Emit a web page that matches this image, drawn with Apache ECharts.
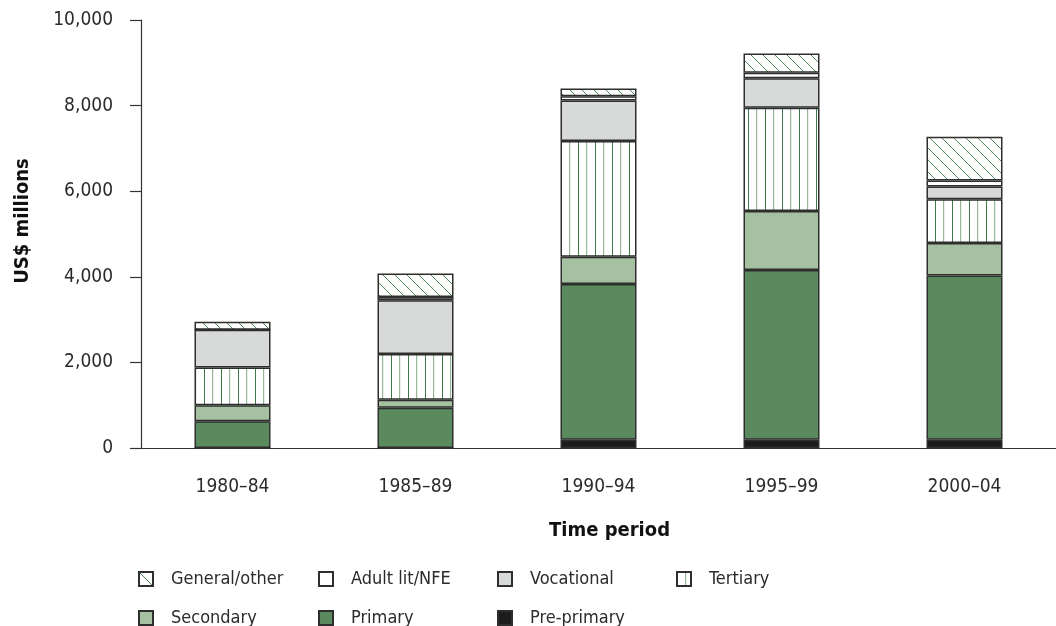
<!DOCTYPE html>
<html>
<head>
<meta charset="utf-8">
<title>Aid to education by level</title>
<script src="https://cdn.jsdelivr.net/npm/echarts@6/dist/echarts.min.js"></script>
<style>
  html, body { margin: 0; padding: 0; background: #fff; }
  #chart { width: 1056px; height: 626px; }
</style>
</head>
<body>
<div id="chart"></div>
<script>
// data (US$ millions)
const periods = ['1980–84', '1985–89', '1990–94', '1995–99', '2000–04']
const prePrimary = [0, 0, 190, 190, 190]
const primary = [625, 940, 3640, 3970, 3840]
const secondary = [375, 185, 640, 1380, 760]
const tertiary = [880, 1070, 2700, 2410, 1020]
const vocational = [885, 1260, 950, 690, 300]
const adultLit = [0, 75, 100, 130, 140]
const generalOther = [185, 550, 180, 450, 1025]
const yTicks = [0, 2000, 4000, 6000, 8000, 10000]

const font = '"Liberation Sans Narrow", "DejaVu Sans Condensed", "Liberation Sans", sans-serif'
const textColor = '#2b2b2b'
const edge = '#2e2e2e'

// vertical lines pattern (tertiary)
const makeVertical = () => {
  const c = document.createElement('canvas')
  c.width = 17
  c.height = 4
  const ctx = c.getContext('2d')
  ctx.fillStyle = '#fff'
  ctx.fillRect(0, 0, 17, 4)
  ctx.fillStyle = '#3f7a47'
  ctx.fillRect(0, 0, 1, 4)
  ctx.fillStyle = '#94b994'
  ctx.fillRect(8, 0, 1.2, 4)
  return c
}

// diagonal hatch pattern (general/other)
const makeHatch = () => {
  const s = 12
  const c = document.createElement('canvas')
  c.width = s
  c.height = s
  const ctx = c.getContext('2d')
  ctx.fillStyle = '#fff'
  ctx.fillRect(0, 0, s, s)
  ctx.strokeStyle = '#4e8a55'
  ctx.lineWidth = 1
  ctx.beginPath()
  ctx.moveTo(-1, -1)
  ctx.lineTo(s + 1, s + 1)
  ctx.moveTo(-1, s - 1)
  ctx.lineTo(1, s + 1)
  ctx.moveTo(s - 1, -1)
  ctx.lineTo(s + 1, 1)
  ctx.stroke()
  return c
}

const seriesDefs = [
  { name: 'Pre-primary', data: prePrimary, color: '#1c1c1c' },
  { name: 'Primary', data: primary, color: '#5a8a5e' },
  { name: 'Secondary', data: secondary, color: '#a6c1a1' },
  { name: 'Tertiary', data: tertiary, color: { image: makeVertical(), repeat: 'repeat' } },
  { name: 'Vocational', data: vocational, color: '#d8d9d9' },
  { name: 'Adult lit/NFE', data: adultLit, color: '#ffffff' },
  { name: 'General/other', data: generalOther, color: { image: makeHatch(), repeat: 'repeat' } }
]

// legend laid out as in the picture: two rows, fixed columns
const legendPos = [
  { name: 'General/other', left: 138, top: 570 },
  { name: 'Adult lit/NFE', left: 318, top: 570 },
  { name: 'Vocational', left: 497, top: 570 },
  { name: 'Tertiary', left: 676, top: 570 },
  { name: 'Secondary', left: 138, top: 609 },
  { name: 'Primary', left: 318, top: 609 },
  { name: 'Pre-primary', left: 497, top: 609 }
]

const chart = echarts.init(document.getElementById('chart'), null, { renderer: 'canvas' })

const option = {
  animation: false,
  textStyle: { fontFamily: font, color: textColor },
  grid: { left: 141, top: 20, right: -9, bottom: 178 },
  legend: legendPos.map((l) => ({
    data: [{ name: l.name, icon: 'rect' }],
    left: l.left,
    top: l.top,
    padding: 0,
    itemWidth: 14,
    itemHeight: 14,
    selectedMode: false,
    textStyle: { fontFamily: font, fontSize: 18, color: textColor, padding: [0, 0, 0, 13] }
  })),
  xAxis: {
    type: 'category',
    data: periods,
    name: 'Time period',
    nameLocation: 'middle',
    nameGap: 73,
    nameTextStyle: { fontFamily: font, fontSize: 20, fontWeight: 'bold', color: '#111', padding: [0, 0, 0, 22] },
    axisLine: { lineStyle: { color: '#333', width: 1.2 } },
    axisTick: { length: 10, lineStyle: { color: '#333', width: 1.2 } },
    axisLabel: { margin: 30, fontSize: 19, color: textColor, fontFamily: font }
  },
  yAxis: {
    type: 'value',
    min: yTicks[0],
    max: yTicks[yTicks.length - 1],
    interval: yTicks[1] - yTicks[0],
    name: 'US$ millions',
    nameLocation: 'middle',
    nameGap: 108,
    nameTextStyle: { fontFamily: font, fontSize: 20, fontWeight: 'bold', color: '#111', padding: [0, 0, 0, 26] },
    axisLine: { show: true, lineStyle: { color: '#333', width: 1.2 } },
    axisTick: { show: true, length: 11, lineStyle: { color: '#333', width: 1.2 } },
    splitLine: { show: false },
    axisLabel: {
      margin: 28,
      fontSize: 19,
      color: textColor,
      fontFamily: font,
      formatter: (v) => v.toLocaleString('en-US')
    }
  },
  series: seriesDefs.map((s) => ({
    name: s.name,
    type: 'bar',
    stack: 'total',
    barWidth: 76,
    data: s.data,
    itemStyle: { color: s.color, borderColor: edge, borderWidth: 1.5 }
  }))
}

chart.setOption(option)
</script>
</body>
</html>
